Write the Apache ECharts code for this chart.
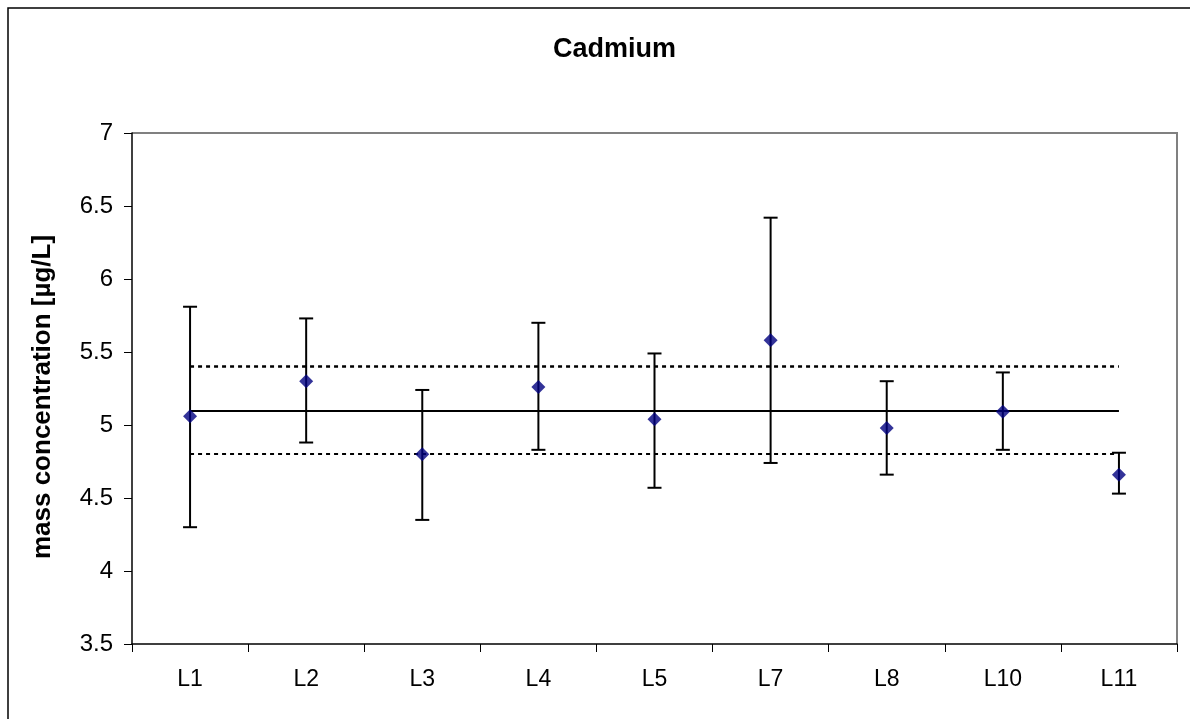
<!DOCTYPE html>
<html>
<head>
<meta charset="utf-8">
<script src="https://cdn.jsdelivr.net/npm/echarts@6/dist/echarts.min.js"></script>
<style>
html,body{margin:0;padding:0;background:#fff;}
#chart{width:1190px;height:719px;}
</style>
</head>
<body>
<div id="chart"></div>
<script>
const categories = ['L1','L2','L3','L4','L5','L7','L8','L10','L11'];
const means = [5.06, 5.30, 4.80, 5.26, 5.04, 5.58, 4.98, 5.09, 4.66];
const upper = [5.81, 5.73, 5.24, 5.70, 5.49, 6.42, 5.30, 5.36, 4.81];
const lower = [4.30, 4.88, 4.35, 4.83, 4.57, 4.74, 4.66, 4.83, 4.53];
const refValue = 5.1;
const refUpper = 5.4;
const refLower = 4.8;
const yTicks = [3.5, 4, 4.5, 5, 5.5, 6, 6.5, 7];

const errData = categories.map((c, i) => [i, lower[i], upper[i]]);
const font = 'Liberation Sans, Arial, sans-serif';

const chart = echarts.init(document.getElementById('chart'));
chart.setOption({
  backgroundColor: '#fff',
  animation: false,
  title: {
    text: 'Cadmium', left: 548, top: 31,
    textStyle: { fontFamily: font, fontSize: 27, fontWeight: 'bold', color: '#000' }
  },
  graphic: [{
    type: 'rect', shape: { x: 8, y: 8, width: 1200, height: 730 },
    style: { fill: 'none', stroke: '#000', lineWidth: 1.5 }, silent: true
  }, {
    type: 'polyline', shape: { points: [[132, 133], [1177, 133], [1177, 644]] },
    style: { stroke: '#808080', lineWidth: 2, fill: 'none' }, silent: true
  }],
  grid: { left: 132, top: 133, right: 13, bottom: 75, containLabel: false },
  xAxis: {
    type: 'category', data: categories, boundaryGap: true,
    axisLine: { lineStyle: { color: '#000', width: 1.5 } },
    axisTick: { show: true, length: 8, lineStyle: { color: '#000', width: 1 } },
    axisLabel: { fontFamily: font, fontSize: 23, color: '#000', margin: 24 },
    splitLine: { show: false }
  },
  yAxis: {
    type: 'value', min: yTicks[0], max: yTicks[yTicks.length - 1], interval: 0.5,
    name: 'mass concentration [µg/L]', nameLocation: 'middle', nameGap: 76, nameRotate: 90,
    nameTextStyle: { fontFamily: font, fontSize: 26, fontWeight: 'bold', color: '#000', padding: [0, 17, 0, 0] },
    axisLine: { show: true, lineStyle: { color: '#000', width: 1.5 } },
    axisTick: { show: true, length: 8, lineStyle: { color: '#000', width: 1 } },
    axisLabel: { fontFamily: font, fontSize: 24, color: '#000', margin: 19 },
    splitLine: { show: false }
  },
  series: [{
    type: 'custom',
    data: errData,
    z: 3,
    renderItem: function (params, api) {
      const x = api.value(0);
      const lo = api.coord([x, api.value(1)]);
      const hi = api.coord([x, api.value(2)]);
      const half = 7;
      const st = { stroke: '#000', lineWidth: 2 };
      return {
        type: 'group',
        children: [
          { type: 'line', shape: { x1: hi[0], y1: hi[1], x2: lo[0], y2: lo[1] }, style: st },
          { type: 'line', shape: { x1: hi[0] - half, y1: hi[1], x2: hi[0] + half, y2: hi[1] }, style: st },
          { type: 'line', shape: { x1: lo[0] - half, y1: lo[1], x2: lo[0] + half, y2: lo[1] }, style: st }
        ]
      };
    },
    encode: { x: 0, y: [1, 2] }
  }, {
    type: 'scatter',
    data: means,
    symbol: 'diamond', symbolSize: 14,
    itemStyle: { color: '#000080' },
    z: 5,
    markLine: {
      silent: true, symbol: 'none', label: { show: false },
      data: [
        [{ coord: [categories[0], refValue], lineStyle: { type: 'solid', width: 2, color: '#000' } },
         { coord: [categories[categories.length - 1], refValue] }],
        [{ coord: [categories[0], refUpper], lineStyle: { type: [4, 4], width: 2.5, color: '#000' } },
         { coord: [categories[categories.length - 1], refUpper] }],
        [{ coord: [categories[0], refLower], lineStyle: { type: [4, 4], width: 2, color: '#000' } },
         { coord: [categories[categories.length - 1], refLower] }]
      ]
    }
  }]
});
</script>
</body>
</html>
